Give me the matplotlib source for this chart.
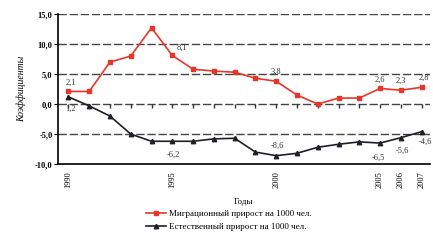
import matplotlib
matplotlib.use("Agg")
import matplotlib.pyplot as plt

# данные (коэффициенты на 1000 чел.)
years = list(range(1990, 2008))
migr = [2.1, 2.1, 7.0, 8.0, 12.7, 8.1, 5.8, 5.5, 5.3, 4.3, 3.8, 1.5, 0.0, 1.0, 1.0, 2.6, 2.3, 2.8]
natur = [1.2, -0.3, -2.0, -5.0, -6.2, -6.2, -6.2, -5.8, -5.7, -8.0, -8.6, -8.2, -7.2, -6.7, -6.3, -6.5, -5.6, -4.6]
xlabels = [1990, 1995, 2000, 2005, 2006, 2007]
yticks = [-10, -5, 0, 5, 10, 15]

migr_notes = {1990: (-2, 5), 1995: (3, 4), 2000: (-4, 5), 2005: (-4, 5), 2006: (-4, 5), 2007: (-2, 5)}
natur_notes = {1990: (-2, -10), 1995: (-4, -11), 2000: (-4, 6), 2005: (-6, -12), 2006: (-4, -11), 2007: (-2, -9)}

plt.rcParams['font.family'] = ['Liberation Serif', 'DejaVu Serif']

fig = plt.figure(figsize=(4.33, 2.42), dpi=100)
ax = fig.add_axes([0.134, 0.322, 0.859, 0.62])

for y in yticks[1:]:
    ax.axhline(y, color='#444444', lw=1.0, ls=(0, (6, 2)), zorder=1)

ax.plot(years, migr, color='#e8352a', lw=1.2, marker='s', ms=3.2, zorder=3,
        label='Миграционный прирост на 1000 чел.')
ax.plot(years, natur, color='#1f1f2a', lw=1.2, marker='^', ms=3.2, zorder=3,
        label='Естественный прирост на 1000 чел.')

# засечки по годам на нулевой линии
ax.plot(years, [0] * len(years), ls='none', marker=3, ms=3, mew=1, color='#333333', zorder=2)

for yr, (dx, dy) in migr_notes.items():
    v = migr[years.index(yr)]
    ax.annotate(('%.1f' % v).replace('.', ','), (yr, v), xytext=(dx, dy),
                textcoords='offset points', fontsize=6, color='#333333')
for yr, (dx, dy) in natur_notes.items():
    v = natur[years.index(yr)]
    ax.annotate(('%.1f' % v).replace('.', ','), (yr, v), xytext=(dx, dy),
                textcoords='offset points', fontsize=6, color='#333333')

ax.set_xlim(1989.5, 2007.4)
ax.set_ylim(-10, 15)
ax.set_yticks(yticks)
ax.set_yticklabels([('%.1f' % t).replace('.', ',') for t in yticks], fontsize=6, fontweight='bold')
ax.set_xticks(xlabels)
ax.set_xticklabels([str(x) for x in xlabels], rotation=90, fontsize=6)
ax.tick_params(axis='x', length=0, pad=5)
ax.tick_params(axis='y', length=3, pad=1)

for s in ['top', 'right']:
    ax.spines[s].set_visible(False)
ax.spines['left'].set_linewidth(1.2)
ax.spines['bottom'].set_linewidth(1.2)

ax.set_ylabel('Коэффициенты', fontsize=7, style='italic', labelpad=6)
ax.set_xlabel('Годы', fontsize=6.5, labelpad=7)

h, l = ax.get_legend_handles_labels()
fig.legend(h, l, loc='upper left', bbox_to_anchor=(146 / 433, 1 - 210 / 242), frameon=False,
           fontsize=6.5, handlelength=2.2, handletextpad=0.4, labelspacing=0.45, borderaxespad=0,
           borderpad=0)

fig.savefig('out.png', dpi=100)
